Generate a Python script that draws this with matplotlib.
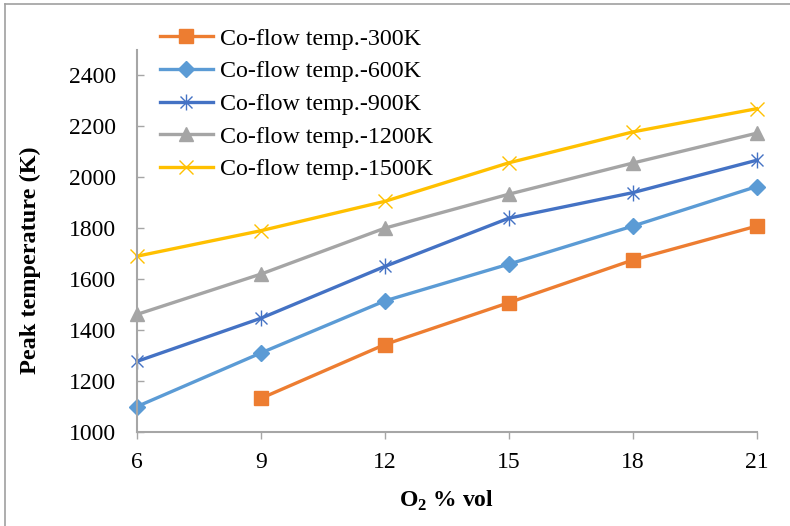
import matplotlib
matplotlib.use("Agg")
import matplotlib.pyplot as plt
from matplotlib.path import Path
from matplotlib.lines import Line2D

o2 = [6, 9, 12, 15, 18, 21]
labels = ["Co-flow temp.-300K", "Co-flow temp.-600K", "Co-flow temp.-900K",
          "Co-flow temp.-1200K", "Co-flow temp.-1500K"]
t300 = [None, 1133, 1344, 1508, 1675, 1808]
t600 = [1101, 1311, 1515, 1659, 1808, 1963]
t900 = [1278, 1447, 1650, 1839, 1939, 2066]
t1200 = [1462, 1620, 1800, 1933, 2055, 2172]
t1500 = [1690, 1790, 1905, 2056, 2177, 2268]
yticks = [1000, 1200, 1400, 1600, 1800, 2000, 2200, 2400]

colors = ["#ED7D31", "#5B9BD5", "#4472C4", "#A5A5A5", "#FFC000"]

star = Path([(0, -1), (0, 1), (-0.75, -0.75), (0.75, 0.75), (-0.75, 0.75), (0.75, -0.75)],
            [Path.MOVETO, Path.LINETO, Path.MOVETO, Path.LINETO, Path.MOVETO, Path.LINETO])

plt.rcParams['font.family'] = ['Liberation Serif', 'DejaVu Serif']
plt.rcParams['mathtext.fontset'] = 'custom'
plt.rcParams['mathtext.rm'] = 'Liberation Serif'
plt.rcParams['mathtext.bf'] = 'Liberation Serif:bold'

W, H = 790, 526
fig = plt.figure(figsize=(7.9, 5.26), dpi=100)
ax = fig.add_axes([137 / W, 1 - 432.3 / H, (756.7 - 137) / W, (432.3 - 49.5) / H])

series = [t300, t600, t900, t1200, t1500]
specs = [dict(marker='s', markersize=10),
         dict(marker='D', markersize=8.5),
         dict(marker=star, markersize=11.5, markeredgewidth=1.0, markerfacecolor='none'),
         dict(marker='^', markersize=10.5),
         dict(marker='x', markersize=9.5, markeredgewidth=1.0)]
for vals, lab, c, sp in zip(series, labels, colors, specs):
    xs = [x for x, v in zip(o2, vals) if v is not None]
    ys = [v for v in vals if v is not None]
    kw = dict(sp)
    kw.setdefault('markerfacecolor', c)
    ax.plot(xs, ys, color=c, lw=2.4, label=lab, markeredgecolor=c, clip_on=False, **kw)

ax.set_xlim(6, 21)
ax.set_ylim(1000, 2500)
ax.set_xticks(o2)
ax.set_yticks(yticks)
ax.tick_params(axis='x', direction='out', length=5, width=1, color='#A6A6A6', labelsize=17, pad=9)
ax.tick_params(axis='y', direction='in', length=5, width=1, color='#A6A6A6', labelsize=17, pad=15)
for s in ['top', 'right']:
    ax.spines[s].set_visible(False)
for s in ['left', 'bottom']:
    ax.spines[s].set_color('#A6A6A6')
    ax.spines[s].set_linewidth(1.5)

fig.text(446.5 / W, 1 - 501 / H, r"O$_\mathbf{2}$ % vol", fontsize=17, fontweight='bold',
         ha='center', va='center')
fig.text(30 / W, 1 - 260 / H, "Peak temperature (K)", fontsize=17.5, fontweight='bold',
         ha='center', va='center', rotation=90)

fig.legend(loc='upper left', bbox_to_anchor=(160 / W, 1 - 28 / H), frameon=False,
           fontsize=17.3, handlelength=2.2, handletextpad=0.28, labelspacing=0.45,
           borderaxespad=0, borderpad=0)

fig.lines.append(Line2D([5 / W, 1], [1 - 4 / H, 1 - 4 / H], transform=fig.transFigure,
                        color='#A0A0A0', lw=1.2))
fig.lines.append(Line2D([5 / W, 5 / W], [0, 1 - 4 / H], transform=fig.transFigure,
                        color='#A0A0A0', lw=1.2))
fig.savefig("out.png", dpi=100)
